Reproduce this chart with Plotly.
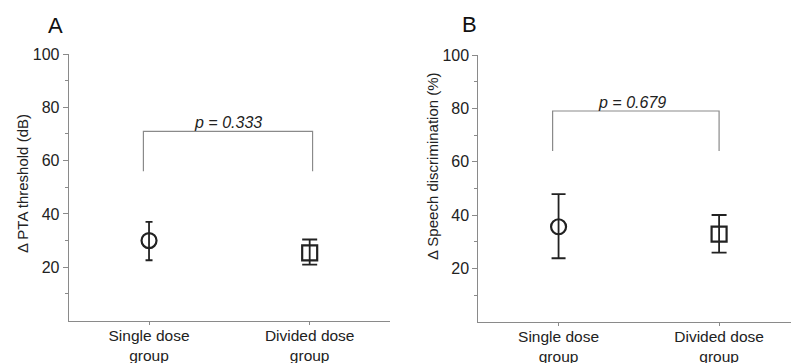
import plotly.graph_objects as go

categories = ["Single dose<br>group", "Divided dose<br>group"]

pta_mean = [30.0, 25.4]
pta_upper = [37.0, 30.4]
pta_lower = [22.6, 21.0]
pta_p = "p = 0.333"

speech_mean = [35.6, 32.8]
speech_upper = [47.8, 40.0]
speech_lower = [23.8, 25.9]
speech_p = "p = 0.679"

ytick_vals = [20, 40, 60, 80, 100]
yminor_vals = [10, 30, 50, 70, 90]

FONT = "Liberation Sans, Arial, Helvetica, sans-serif"
DARK = "#222222"
GREY = "#8a8a8a"

fig = go.Figure()

def add_panel(mean, upper, lower, xa, ya, cap0, cap1):
    symbols = ["circle-open", "square-open"]
    caps = [cap0, cap1]
    sizes = [15, 15]
    for i in range(2):
        fig.add_trace(go.Scatter(
            x=[categories[i]], y=[mean[i]], mode="markers",
            xaxis=xa, yaxis=ya,
            marker=dict(symbol=symbols[i], size=sizes[i], color=DARK,
                        line=dict(width=2.2, color=DARK)),
            error_y=dict(type="data", symmetric=False,
                         array=[upper[i] - mean[i]],
                         arrayminus=[mean[i] - lower[i]],
                         color=DARK, thickness=1.8, width=caps[i]),
            showlegend=False, hoverinfo="skip"))

add_panel(pta_mean, pta_upper, pta_lower, "x", "y", 3.5, 7.5)
add_panel(speech_mean, speech_upper, speech_lower, "x2", "y2", 7, 7.5)

def bracket(xref, yref, top, leg, x0, x1):
    fig.add_shape(type="path",
                  path=f"M {x0},{leg} L {x0},{top} L {x1},{top} L {x1},{leg}",
                  xref=xref, yref=yref, line=dict(color=GREY, width=1.2))

bracket("x", "y", 71, 56, -0.035, 1.018)
bracket("x2", "y2", 79, 64, -0.037, 1.0)

fig.add_annotation(x=0.49, y=71, xref="x", yref="y", text="<i>" + pta_p + "</i>",
                   showarrow=False, xanchor="center", yanchor="bottom", yshift=-2,
                   font=dict(family=FONT, size=16, color=DARK))
fig.add_annotation(x=0.46, y=79, xref="x2", yref="y2", text="<i>" + speech_p + "</i>",
                   showarrow=False, xanchor="center", yanchor="bottom", yshift=-2,
                   font=dict(family=FONT, size=16, color=DARK))

W, H = 791, 363
# panel letters
fig.add_annotation(x=55.5 / W, y=1 - 25 / H, xref="paper", yref="paper", text="A",
                   xanchor="center", yanchor="middle",
                   showarrow=False, font=dict(family=FONT, size=22, color="#111"))
fig.add_annotation(x=469.5 / W, y=1 - 24 / H, xref="paper", yref="paper", text="B",
                   xanchor="center", yanchor="middle",
                   showarrow=False, font=dict(family=FONT, size=22, color="#111"))
# y titles
fig.add_annotation(x=22 / W, y=1 - 184 / H, xref="paper", yref="paper",
                   text="Δ PTA threshold (dB)", textangle=-90, showarrow=False,
                   xanchor="center", yanchor="middle",
                   font=dict(family=FONT, size=15, color=DARK))
fig.add_annotation(x=433 / W, y=1 - 166 / H, xref="paper", yref="paper",
                   text="Δ Speech discrimination (%)", textangle=-90, showarrow=False,
                   xanchor="center", yanchor="middle",
                   font=dict(family=FONT, size=15, color=DARK))

xcommon = dict(type="category", showgrid=False, zeroline=False, showline=True,
               linecolor=GREY, linewidth=1, ticks="outside", ticklen=3,
               tickcolor=GREY, tickwidth=1.2, automargin=False,
               ticklabelstandoff=-2,
               tickfont=dict(family=FONT, size=15.5, color=DARK), fixedrange=True)
ycommon = dict(range=[0, 100], showgrid=False, zeroline=False, showline=True,
               linecolor=GREY, linewidth=1, ticks="outside", ticklen=5,
               tickcolor=GREY, tickvals=ytick_vals, automargin=False,
               minor=dict(tickvals=yminor_vals, ticklen=3, tickcolor=GREY, ticks="outside"),
               tickfont=dict(family=FONT, size=16, color=DARK))

fig.update_layout(
    width=W, height=H,
    margin=dict(l=0, r=0, t=0, b=0, autoexpand=False),
    paper_bgcolor="white", plot_bgcolor="white",
    xaxis=dict(xcommon, domain=[68.7 / W, 390 / W], range=[-0.5, 1.5], anchor="y"),
    yaxis=dict(ycommon, domain=[1 - 320.5 / H, 1 - 54 / H], anchor="x"),
    xaxis2=dict(xcommon, domain=[478.3 / W, 1.0], range=[-0.5, 1.448], anchor="y2"),
    yaxis2=dict(ycommon, domain=[1 - 321.7 / H, 1 - 55 / H], anchor="x2"),
)

fig.write_html("out.html", config={"displayModeBar": False},
               post_script="document.body.style.margin='0';")
